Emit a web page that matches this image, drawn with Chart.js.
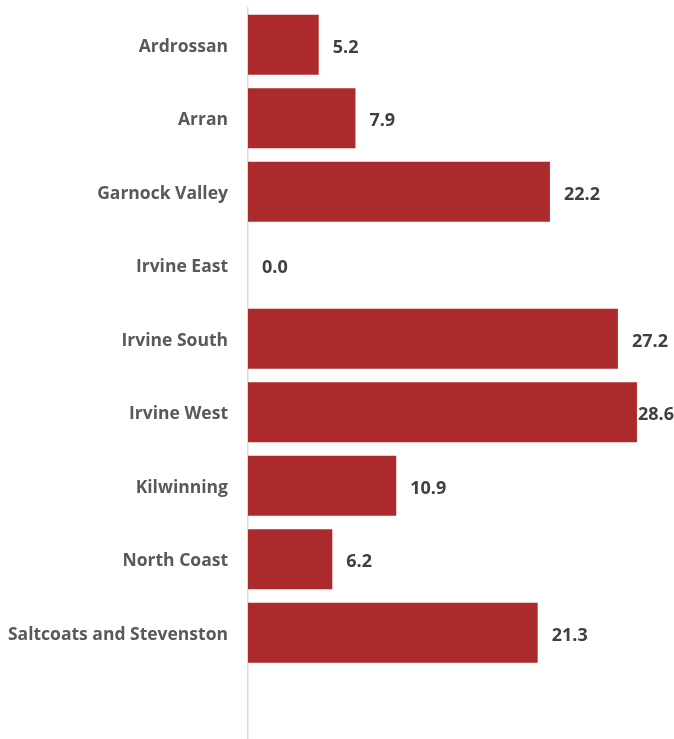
<!DOCTYPE html>
<html lang="en">
<head>
  <meta charset="UTF-8">
  <title>Locality values</title>
  <script src="https://cdn.jsdelivr.net/npm/chart.js"></script>
  <style>
    html, body { margin: 0; padding: 0; background: #fff; overflow: hidden; }
    #wrap { position: relative; width: 674px; height: 743px; }
  </style>
</head>
<body>
  <div id="wrap"><canvas id="chart"></canvas></div>
  <script>
    // categories (last one is an empty slot, as in the original chart)
    const localities = ['Ardrossan', 'Arran', 'Garnock Valley', 'Irvine East', 'Irvine South',
      'Irvine West', 'Kilwinning', 'North Coast', 'Saltcoats and Stevenston', ''];
    const values = [5.2, 7.9, 22.2, 0.0, 27.2, 28.6, 10.9, 6.2, 21.3, null];

    const FONT = '"Open Sans", "DejaVu Sans", sans-serif';

    // draws the value next to the end of each bar
    const valueLabels = {
      id: 'valueLabels',
      afterDatasetsDraw(chart) {
        const ctx = chart.ctx;
        const meta = chart.getDatasetMeta(0);
        ctx.save();
        ctx.font = 'bold 18px ' + FONT;
        ctx.fillStyle = '#404040';
        ctx.textBaseline = 'middle';
        ctx.textAlign = 'left';
        meta.data.forEach((bar, i) => {
          const v = values[i];
          if (v === null) return;
          const txt = v.toFixed(1);
          const w = ctx.measureText(txt).width;
          let x = bar.x + 14;
          if (x + w > chart.width) x = chart.width - w;
          ctx.fillText(txt, x, bar.y + 3);
        });
        ctx.restore();
      }
    };

    new Chart(document.getElementById('chart'), {
      type: 'bar',
      data: {
        labels: localities,
        datasets: [{
          data: values,
          backgroundColor: '#AD2A2C',
          borderWidth: 0,
          categoryPercentage: 0.816,
          barPercentage: 1.0
        }]
      },
      options: {
        indexAxis: 'y',
        responsive: true,
        maintainAspectRatio: false,
        animation: false,
        layout: { padding: { top: 8, right: 18, bottom: 0, left: 0 } },
        plugins: {
          legend: { display: false },
          tooltip: { enabled: false }
        },
        scales: {
          x: {
            display: false,
            min: 0,
            max: 30
          },
          y: {
            grid: { display: false, drawTicks: false },
            border: { display: true, color: '#D9D9D9', width: 1.5 },
            ticks: {
              color: '#595959',
              font: { family: FONT, size: 17.5, weight: 'bold' },
              padding: 20,
              labelOffset: 2,
              crossAlign: 'near'
            },
            afterFit(scale) {
              scale.width = 248;
              scale.paddingTop = 0;
              scale.paddingBottom = 0;
            }
          }
        }
      },
      plugins: [valueLabels]
    });
  </script>
</body>
</html>
